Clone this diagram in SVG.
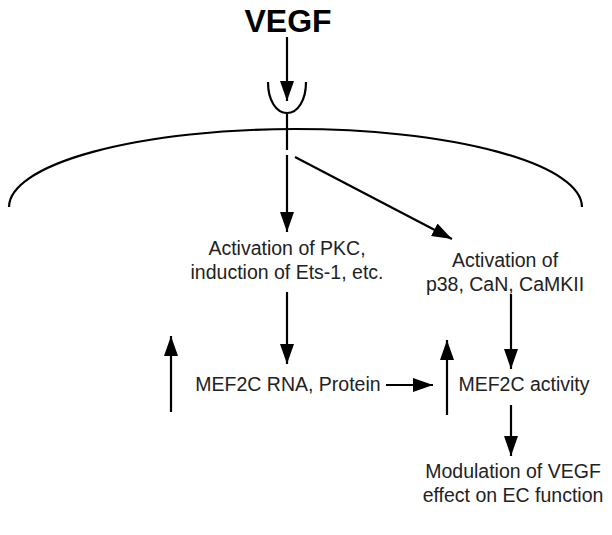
<svg xmlns="http://www.w3.org/2000/svg" width="612" height="535" viewBox="0 0 612 535">
<style>
text{font-family:"Liberation Sans",Arial,sans-serif;fill:#222;font-size:19.5px;text-anchor:middle}
.big{font-size:32px;font-weight:bold;fill:#000}
.ln{stroke:#000;stroke-width:2.2;fill:none}
.ar{stroke:#000;stroke-width:2.2;fill:none;marker-end:url(#ah)}
</style>
<defs>
<marker id="ah" viewBox="0 0 20 14" refX="20" refY="7" markerWidth="20" markerHeight="14" markerUnits="userSpaceOnUse" orient="auto">
<path d="M0,0 L20,7 L0,14 Z" fill="#000"/>
</marker>
</defs>
<g id="vegf"><text class="big" x="288" y="32">VEGF</text></g>
<g id="receptor">
<path class="ln" d="M268,82 C268,100 276,113 287,113 C298,113 306,100 306,82"/>
<path class="ln" d="M287,113 L287,150"/>
</g>
<g id="membrane"><path class="ln" d="M9,207 A286.5,78 0 0 1 582,207"/></g>
<g id="pkc"><text x="287" y="255">Activation of PKC,</text><text x="287" y="279">induction of Ets-1, etc.</text></g>
<g id="p38"><text x="505" y="267">Activation of</text><text x="505" y="291">p38, CaN, CaMKII</text></g>
<g id="rna"><text x="288" y="391">MEF2C RNA, Protein</text></g>
<g id="activity"><text x="524" y="391">MEF2C activity</text></g>
<g id="modulation"><text x="513" y="478">Modulation of VEGF</text><text x="513" y="502">effect on EC function</text></g>
<g id="connectors">
<path class="ar" d="M287,37 L287,101"/>
<path class="ar" d="M287,155 L287,232"/>
<path class="ar" d="M295,157 L452,239"/>
<path class="ar" d="M287,292 L287,364"/>
<path class="ar" d="M511,294 L511,369"/>
<path class="ar" d="M386,385 L433,385"/>
<path class="ar" d="M511,405 L511,456"/>
<path class="ar" d="M171,412 L171,336"/>
<path class="ar" d="M447,415 L447,340"/>
</g>
</svg>
